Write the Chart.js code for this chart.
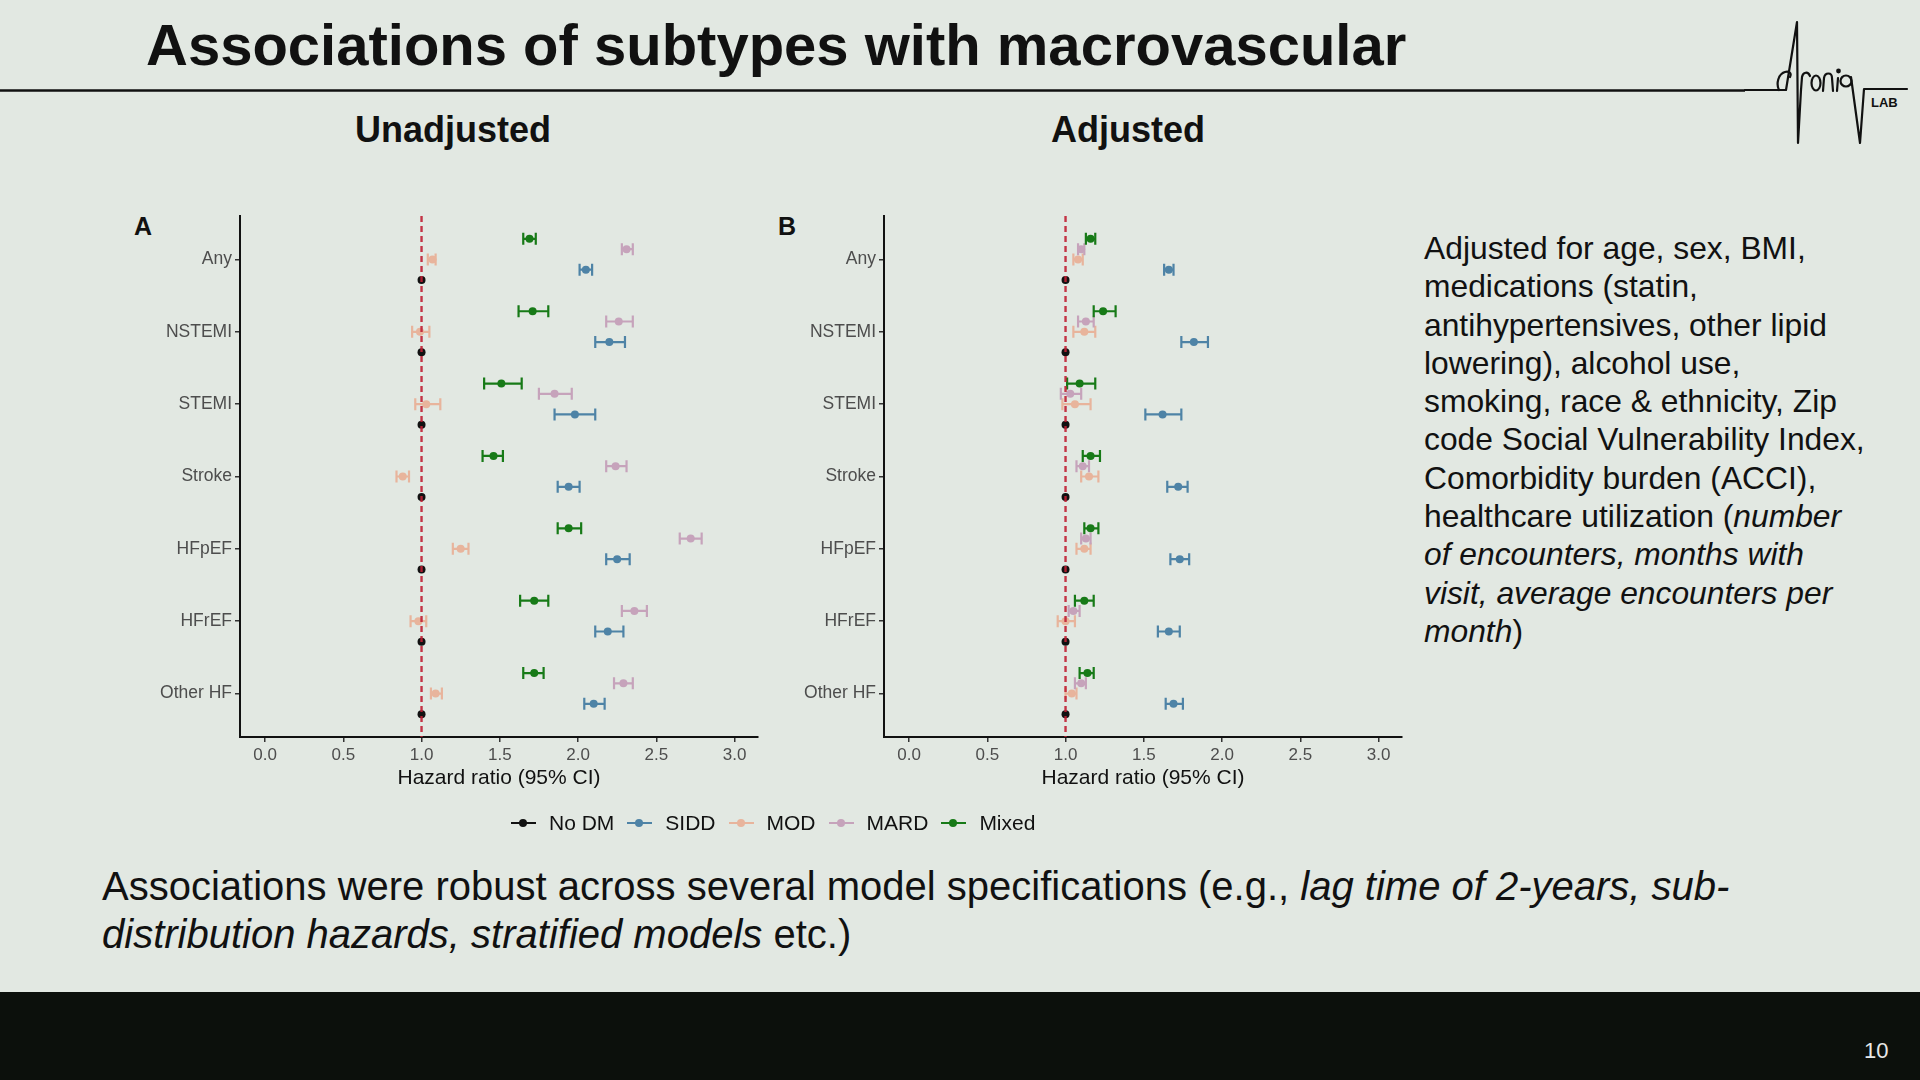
<!DOCTYPE html>
<html>
<head>
<meta charset="utf-8">
<script src="https://cdn.jsdelivr.net/npm/chart.js"></script>
<style>
  html, body { margin: 0; padding: 0; background: #e2e8e2; }
  #slide { position: relative; width: 1920px; height: 1080px; overflow: hidden; background: #e2e8e2;
           font-family: "Liberation Sans", Arial, sans-serif; color: #111; }
  .abs { position: absolute; white-space: nowrap; }
  .title { left: 146px; top: 16px; font-size: 58px; line-height: 58px; font-weight: bold; }
  .sub { top: 112px; font-size: 36px; line-height: 36px; font-weight: bold; transform: translateX(-50%); }
  .tag { top: 214px; font-size: 25px; line-height: 25px; font-weight: bold; }
  canvas { position: absolute; }
  #legend { left: 511px; top: 810px; display: flex; align-items: center; font-size: 21px; line-height: 26px; }
  .item { display: flex; align-items: center; margin-right: 13px; }
  .swatch { position: relative; width: 25px; height: 26px; margin-right: 13px; }
  .swatch i { position: absolute; left: 0; right: 0; top: 12px; height: 2px; }
  .swatch b { position: absolute; left: 8px; top: 9px; width: 8px; height: 8px; border-radius: 50%; }
  .note { left: 1424px; top: 229px; font-size: 31.8px; line-height: 38.3px; }
  .bottom { left: 102px; top: 863px; font-size: 40px; line-height: 47.8px; }
  .band { left: 0; top: 992px; width: 1920px; height: 88px; background: #0c100c; }
  .page { left: 1864px; top: 1039px; font-size: 22px; line-height: 24px; color: #e8e8e8; }
</style>
</head>
<body>
<div id="slide">
  <div class="abs title">Associations of subtypes with macrovascular</div>

  <svg class="abs" style="left:0;top:0" width="1920" height="160" viewBox="0 0 1920 160">
    <path d="M0 90.5 H1745" stroke="#111" stroke-width="2.6" fill="none"/>
    <g stroke="#111" stroke-width="2.2" fill="none" stroke-linecap="round" stroke-linejoin="round">
      <path d="M1745 90 H1786 L1797 22 L1798 143 L1801 90"/>
      <path d="M1779 90 C1776 84 1778 74 1785 72 C1789 71 1792 73 1790 77"/>
      <path d="M1801 90 L1802 77 C1803 72 1808 71 1810 76"/>
      <ellipse cx="1816" cy="83" rx="4.5" ry="7.5"/>
      <path d="M1823 91 L1824 78 C1825 72 1832 72 1832 78 L1833 91"/>
      <path d="M1837 91 L1838 78"/>
      <circle cx="1838.5" cy="71" r="1.3" fill="#111"/>
      <circle cx="1846" cy="81" r="5.5"/>
      <path d="M1851 77 L1860 143 L1864 89 H1907"/>
    </g>
    <text x="1871" y="107" font-family="Liberation Sans Narrow, Liberation Sans, sans-serif" font-weight="bold" font-size="13" fill="#111">LAB</text>
  </svg>

  <div class="abs sub" style="left:453px">Unadjusted</div>
  <div class="abs sub" style="left:1128px">Adjusted</div>
  <div class="abs tag" style="left:134px">A</div>
  <div class="abs tag" style="left:778px">B</div>

  <canvas id="chartA" width="660" height="620" style="left:120px;top:196px;width:660px;height:620px"></canvas>
  <canvas id="chartB" width="660" height="620" style="left:764px;top:196px;width:660px;height:620px"></canvas>

  <div id="legend" class="abs"></div>

  <div class="abs note">Adjusted for age, sex, BMI,<br>medications (statin,<br>antihypertensives, other lipid<br>lowering), alcohol use,<br>smoking, race &amp; ethnicity, Zip<br>code Social Vulnerability Index,<br>Comorbidity burden (ACCI),<br>healthcare utilization (<i>number</i><br><i>of encounters, months with</i><br><i>visit, average encounters per</i><br><i>month</i>)</div>

  <div class="abs bottom">Associations were robust across several model specifications (e.g., <i>lag time of 2-years, sub-</i><br><i>distribution hazards, stratified models</i> etc.)</div>

  <div class="abs band"></div>
  <div class="abs page">10</div>
</div>

<script>
// outcomes (y axis, top to bottom) and subtype groups
const outcomes = ['Any', 'NSTEMI', 'STEMI', 'Stroke', 'HFpEF', 'HFrEF', 'Other HF'];
const groups = ['No DM', 'SIDD', 'MOD', 'MARD', 'Mixed'];
const groupColors = ['#111111', '#4e83a6', '#e8b49c', '#c6a3bb', '#177a17'];
const xTicks = [0, 0.5, 1, 1.5, 2, 2.5, 3];

// A: unadjusted hazard ratios with 95% CI
const unadjNoDM    = [1, 1, 1, 1, 1, 1, 1];
const unadjSIDD    = [2.05, 2.20, 1.98, 1.94, 2.25, 2.19, 2.10];
const unadjSIDDLo  = [2.01, 2.11, 1.85, 1.87, 2.18, 2.11, 2.04];
const unadjSIDDHi  = [2.09, 2.30, 2.11, 2.01, 2.33, 2.29, 2.17];
const unadjMOD     = [1.07, 0.99, 1.03, 0.88, 1.25, 0.98, 1.09];
const unadjMODLo   = [1.04, 0.94, 0.96, 0.84, 1.20, 0.93, 1.06];
const unadjMODHi   = [1.09, 1.05, 1.12, 0.92, 1.30, 1.03, 1.13];
const unadjMARD    = [2.31, 2.26, 1.85, 2.24, 2.72, 2.36, 2.29];
const unadjMARDLo  = [2.28, 2.18, 1.75, 2.18, 2.65, 2.28, 2.23];
const unadjMARDHi  = [2.35, 2.35, 1.96, 2.31, 2.79, 2.44, 2.35];
const unadjMixed   = [1.69, 1.71, 1.51, 1.46, 1.94, 1.72, 1.72];
const unadjMixedLo = [1.65, 1.62, 1.40, 1.39, 1.87, 1.63, 1.65];
const unadjMixedHi = [1.73, 1.81, 1.64, 1.52, 2.02, 1.81, 1.78];

// B: adjusted hazard ratios with 95% CI
const adjNoDM    = [1, 1, 1, 1, 1, 1, 1];
const adjSIDD    = [1.66, 1.82, 1.62, 1.72, 1.73, 1.66, 1.69];
const adjSIDDLo  = [1.63, 1.74, 1.51, 1.65, 1.67, 1.59, 1.64];
const adjSIDDHi  = [1.69, 1.91, 1.74, 1.78, 1.79, 1.73, 1.75];
const adjMOD     = [1.08, 1.12, 1.06, 1.15, 1.12, 1.00, 1.04];
const adjMODLo   = [1.05, 1.05, 0.98, 1.10, 1.07, 0.95, 1.00];
const adjMODHi   = [1.11, 1.19, 1.16, 1.21, 1.16, 1.06, 1.07];
const adjMARD    = [1.10, 1.13, 1.03, 1.11, 1.13, 1.05, 1.10];
const adjMARDLo  = [1.08, 1.08, 0.97, 1.07, 1.10, 1.02, 1.06];
const adjMARDHi  = [1.12, 1.18, 1.10, 1.15, 1.16, 1.09, 1.13];
const adjMixed   = [1.16, 1.24, 1.09, 1.16, 1.16, 1.12, 1.14];
const adjMixedLo = [1.13, 1.18, 1.01, 1.11, 1.12, 1.06, 1.09];
const adjMixedHi = [1.19, 1.32, 1.19, 1.22, 1.21, 1.18, 1.18];

const FONT = '"Liberation Sans", Arial, sans-serif';
const DODGE = 0.142;   // vertical spacing between subtypes inside an outcome row

// horizontal CI whiskers with caps, drawn under the points
const errorBars = {
  id: 'errorBars',
  beforeDatasetsDraw(chart) {
    const { ctx, scales: { x, y } } = chart;
    ctx.save();
    ctx.lineWidth = 2.2;
    chart.data.datasets.forEach(ds => {
      ctx.strokeStyle = ds.borderColor;
      ds.data.forEach(p => {
        if (p.lo === p.hi) return;
        const yp = y.getPixelForValue(p.y);
        const x1 = x.getPixelForValue(p.lo);
        const x2 = x.getPixelForValue(p.hi);
        ctx.beginPath();
        ctx.moveTo(x1, yp); ctx.lineTo(x2, yp);
        ctx.moveTo(x1, yp - 6); ctx.lineTo(x1, yp + 6);
        ctx.moveTo(x2, yp - 6); ctx.lineTo(x2, yp + 6);
        ctx.stroke();
      });
    });
    ctx.restore();
  }
};

// dashed reference line at HR = 1
const refLine = {
  id: 'refLine',
  afterDatasetsDraw(chart) {
    const { ctx, chartArea, scales: { x } } = chart;
    const xp = x.getPixelForValue(1);
    ctx.save();
    ctx.strokeStyle = 'rgba(192, 32, 52, 0.9)';
    ctx.lineWidth = 2.4;
    ctx.setLineDash([6, 4]);
    ctx.beginPath();
    ctx.moveTo(xp, chartArea.top);
    ctx.lineTo(xp, chartArea.bottom);
    ctx.stroke();
    ctx.restore();
  }
};

function buildDatasets(hr, lo, hi) {
  return groups.map((g, gi) => ({
    label: g,
    data: outcomes.map((o, i) => ({
      x: hr[gi][i],
      y: i + (2 - gi) * DODGE,
      lo: lo[gi][i],
      hi: hi[gi][i]
    })),
    backgroundColor: groupColors[gi],
    borderColor: groupColors[gi],
    pointRadius: 4,
    pointHoverRadius: 4,
    borderWidth: 0
  }));
}

function axisCommon() {
  return {
    grid: { display: true, drawOnChartArea: false, drawTicks: true, tickLength: 5, color: '#333', lineWidth: 1.5 },
    border: { display: true, color: '#111', width: 2 }
  };
}

function createChart(id, datasets) {
  return new Chart(document.getElementById(id), {
    type: 'scatter',
    data: { datasets: datasets },
    options: {
      responsive: false,
      animation: false,
      layout: { padding: { left: 0, top: 20, right: 22, bottom: 21 } },
      plugins: { legend: { display: false }, tooltip: { enabled: false } },
      scales: {
        x: {
          type: 'linear',
          min: -0.16,
          max: 3.15,
          afterFit(scale) { scale.height = 58; },
          afterBuildTicks(scale) { scale.ticks = xTicks.map(v => ({ value: v })); },
          ticks: { callback: v => v.toFixed(1), color: '#4d4d4d', font: { family: FONT, size: 17 }, padding: 3 },
          title: { display: true, text: 'Hazard ratio (95% CI)', color: '#111', font: { family: FONT, size: 21 }, padding: { top: 3 } },
          ...axisCommon()
        },
        y: {
          type: 'linear',
          reverse: true,
          min: -0.6,
          max: 6.6,
          afterFit(scale) { scale.width = 120; },
          afterBuildTicks(scale) { scale.ticks = outcomes.map((o, i) => ({ value: i })); },
          ticks: { callback: v => outcomes[v], color: '#4d4d4d', font: { family: FONT, size: 17.5 }, padding: 3 },
          ...axisCommon()
        }
      }
    },
    plugins: [errorBars, refLine]
  });
}

createChart('chartA', buildDatasets(
  [unadjNoDM, unadjSIDD, unadjMOD, unadjMARD, unadjMixed],
  [unadjNoDM, unadjSIDDLo, unadjMODLo, unadjMARDLo, unadjMixedLo],
  [unadjNoDM, unadjSIDDHi, unadjMODHi, unadjMARDHi, unadjMixedHi]
));

createChart('chartB', buildDatasets(
  [adjNoDM, adjSIDD, adjMOD, adjMARD, adjMixed],
  [adjNoDM, adjSIDDLo, adjMODLo, adjMARDLo, adjMixedLo],
  [adjNoDM, adjSIDDHi, adjMODHi, adjMARDHi, adjMixedHi]
));

// shared legend under both panels
const legend = document.getElementById('legend');
groups.forEach((g, gi) => {
  const item = document.createElement('div');
  item.className = 'item';
  item.innerHTML = '<span class="swatch"><i style="background:' + groupColors[gi] + '"></i>' +
                   '<b style="background:' + groupColors[gi] + '"></b></span><span>' + g + '</span>';
  legend.appendChild(item);
});
</script>
</body>
</html>
